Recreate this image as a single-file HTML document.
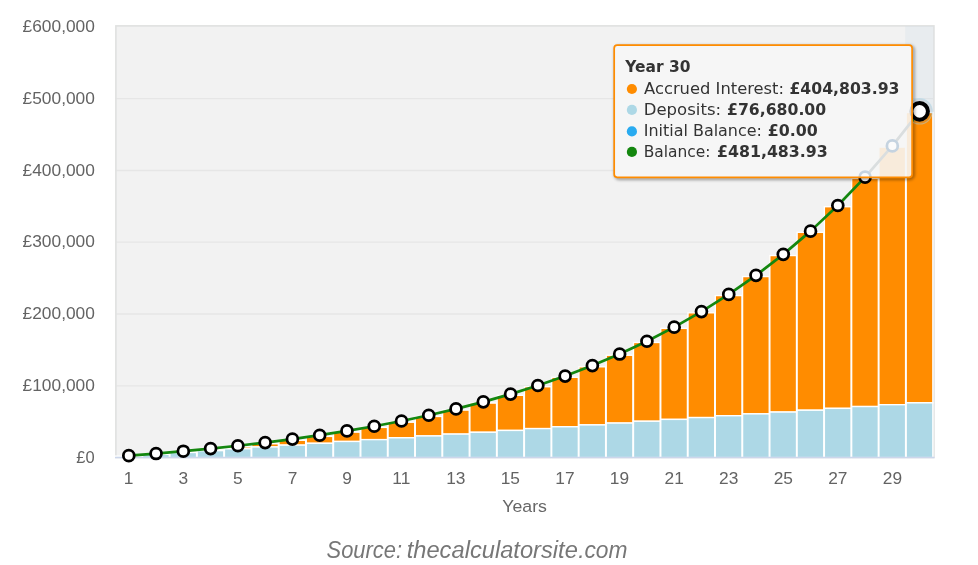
<!DOCTYPE html>
<html lang="en"><head><meta charset="utf-8"><title>Compound interest chart</title>
<style>html,body{margin:0;padding:0;background:#fff}body{width:978px;height:565px;overflow:hidden}svg{display:block}.ax{font-family:"Liberation Sans","DejaVu Sans",sans-serif;font-size:16px;fill:#636363}.tt{font-family:"DejaVu Sans", "Liberation Sans", sans-serif;font-size:15.9px;fill:#333}.b{font-weight:bold}.src{font-family:"Liberation Sans","DejaVu Sans",sans-serif;font-style:italic;font-size:23px;fill:#777}</style></head><body>
<svg width="978" height="565" viewBox="0 0 978 565">
<defs><filter id="sh" x="-5%" y="-10%" width="110%" height="125%"><feGaussianBlur stdDeviation="1.5"/></filter></defs>
<rect x="0" y="0" width="978" height="565" fill="#fff"/>
<rect x="115.2" y="25.2" width="819.3" height="432.4" fill="#f2f2f2"/>
<line x1="115.2" x2="933.3" y1="98.7" y2="98.7" stroke="#e6e6e6" stroke-width="1.3"/>
<line x1="115.2" x2="933.3" y1="170.5" y2="170.5" stroke="#e6e6e6" stroke-width="1.3"/>
<line x1="115.2" x2="933.3" y1="242.2" y2="242.2" stroke="#e6e6e6" stroke-width="1.3"/>
<line x1="115.2" x2="933.3" y1="314.0" y2="314.0" stroke="#e6e6e6" stroke-width="1.3"/>
<line x1="115.2" x2="933.3" y1="385.8" y2="385.8" stroke="#e6e6e6" stroke-width="1.3"/>
<line x1="115.2" x2="933.3" y1="457.6" y2="457.6" stroke="#e6e6e6" stroke-width="1.3"/>
<rect x="115.9" y="25.9" width="818.0" height="431.6" fill="none" stroke="#e0e2e1" stroke-width="1.6"/>
<rect x="905.3" y="26.0" width="28.0" height="431.5" fill="#d1dee8" fill-opacity="0.3"/>
<rect x="115.36" y="456.88" width="26.67" height="-0.71" fill="#ff8c00" stroke="#fff" stroke-width="1.36"/>
<rect x="115.36" y="456.16" width="26.67" height="1.44" fill="#add8e6" stroke="#fff" stroke-width="1.36"/>
<rect x="142.63" y="454.75" width="26.67" height="-0.43" fill="#ff8c00" stroke="#fff" stroke-width="1.36"/>
<rect x="142.63" y="454.32" width="26.67" height="3.28" fill="#add8e6" stroke="#fff" stroke-width="1.36"/>
<rect x="169.90" y="452.40" width="26.67" height="0.09" fill="#ff8c00" stroke="#fff" stroke-width="1.36"/>
<rect x="169.90" y="452.49" width="26.67" height="5.11" fill="#add8e6" stroke="#fff" stroke-width="1.36"/>
<rect x="197.17" y="449.80" width="26.67" height="0.84" fill="#ff8c00" stroke="#fff" stroke-width="1.36"/>
<rect x="197.17" y="450.65" width="26.67" height="6.95" fill="#add8e6" stroke="#fff" stroke-width="1.36"/>
<rect x="224.44" y="446.94" width="26.67" height="1.87" fill="#ff8c00" stroke="#fff" stroke-width="1.36"/>
<rect x="224.44" y="448.81" width="26.67" height="8.79" fill="#add8e6" stroke="#fff" stroke-width="1.36"/>
<rect x="251.71" y="443.77" width="26.67" height="3.20" fill="#ff8c00" stroke="#fff" stroke-width="1.36"/>
<rect x="251.71" y="446.97" width="26.67" height="10.63" fill="#add8e6" stroke="#fff" stroke-width="1.36"/>
<rect x="278.98" y="440.27" width="26.67" height="4.86" fill="#ff8c00" stroke="#fff" stroke-width="1.36"/>
<rect x="278.98" y="445.13" width="26.67" height="12.47" fill="#add8e6" stroke="#fff" stroke-width="1.36"/>
<rect x="306.25" y="436.41" width="26.67" height="6.89" fill="#ff8c00" stroke="#fff" stroke-width="1.36"/>
<rect x="306.25" y="443.29" width="26.67" height="14.31" fill="#add8e6" stroke="#fff" stroke-width="1.36"/>
<rect x="333.52" y="432.14" width="26.67" height="9.32" fill="#ff8c00" stroke="#fff" stroke-width="1.36"/>
<rect x="333.52" y="441.46" width="26.67" height="16.14" fill="#add8e6" stroke="#fff" stroke-width="1.36"/>
<rect x="360.79" y="427.42" width="26.67" height="12.20" fill="#ff8c00" stroke="#fff" stroke-width="1.36"/>
<rect x="360.79" y="439.62" width="26.67" height="17.98" fill="#add8e6" stroke="#fff" stroke-width="1.36"/>
<rect x="388.06" y="422.21" width="26.67" height="15.57" fill="#ff8c00" stroke="#fff" stroke-width="1.36"/>
<rect x="388.06" y="437.78" width="26.67" height="19.82" fill="#add8e6" stroke="#fff" stroke-width="1.36"/>
<rect x="415.33" y="416.45" width="26.67" height="19.49" fill="#ff8c00" stroke="#fff" stroke-width="1.36"/>
<rect x="415.33" y="435.94" width="26.67" height="21.66" fill="#add8e6" stroke="#fff" stroke-width="1.36"/>
<rect x="442.60" y="410.10" width="26.67" height="24.01" fill="#ff8c00" stroke="#fff" stroke-width="1.36"/>
<rect x="442.60" y="434.10" width="26.67" height="23.50" fill="#add8e6" stroke="#fff" stroke-width="1.36"/>
<rect x="469.87" y="403.07" width="26.67" height="29.19" fill="#ff8c00" stroke="#fff" stroke-width="1.36"/>
<rect x="469.87" y="432.27" width="26.67" height="25.33" fill="#add8e6" stroke="#fff" stroke-width="1.36"/>
<rect x="497.14" y="395.31" width="26.67" height="35.12" fill="#ff8c00" stroke="#fff" stroke-width="1.36"/>
<rect x="497.14" y="430.43" width="26.67" height="27.17" fill="#add8e6" stroke="#fff" stroke-width="1.36"/>
<rect x="524.41" y="386.74" width="26.67" height="41.85" fill="#ff8c00" stroke="#fff" stroke-width="1.36"/>
<rect x="524.41" y="428.59" width="26.67" height="29.01" fill="#add8e6" stroke="#fff" stroke-width="1.36"/>
<rect x="551.68" y="377.27" width="26.67" height="49.48" fill="#ff8c00" stroke="#fff" stroke-width="1.36"/>
<rect x="551.68" y="426.75" width="26.67" height="30.85" fill="#add8e6" stroke="#fff" stroke-width="1.36"/>
<rect x="578.95" y="366.80" width="26.67" height="58.11" fill="#ff8c00" stroke="#fff" stroke-width="1.36"/>
<rect x="578.95" y="424.91" width="26.67" height="32.69" fill="#add8e6" stroke="#fff" stroke-width="1.36"/>
<rect x="606.22" y="355.25" width="26.67" height="67.83" fill="#ff8c00" stroke="#fff" stroke-width="1.36"/>
<rect x="606.22" y="423.07" width="26.67" height="34.53" fill="#add8e6" stroke="#fff" stroke-width="1.36"/>
<rect x="633.49" y="342.48" width="26.67" height="78.76" fill="#ff8c00" stroke="#fff" stroke-width="1.36"/>
<rect x="633.49" y="421.24" width="26.67" height="36.36" fill="#add8e6" stroke="#fff" stroke-width="1.36"/>
<rect x="660.76" y="328.37" width="26.67" height="91.03" fill="#ff8c00" stroke="#fff" stroke-width="1.36"/>
<rect x="660.76" y="419.40" width="26.67" height="38.20" fill="#add8e6" stroke="#fff" stroke-width="1.36"/>
<rect x="688.03" y="312.79" width="26.67" height="104.77" fill="#ff8c00" stroke="#fff" stroke-width="1.36"/>
<rect x="688.03" y="417.56" width="26.67" height="40.04" fill="#add8e6" stroke="#fff" stroke-width="1.36"/>
<rect x="715.30" y="295.58" width="26.67" height="120.15" fill="#ff8c00" stroke="#fff" stroke-width="1.36"/>
<rect x="715.30" y="415.72" width="26.67" height="41.88" fill="#add8e6" stroke="#fff" stroke-width="1.36"/>
<rect x="742.57" y="276.56" width="26.67" height="137.32" fill="#ff8c00" stroke="#fff" stroke-width="1.36"/>
<rect x="742.57" y="413.88" width="26.67" height="43.72" fill="#add8e6" stroke="#fff" stroke-width="1.36"/>
<rect x="769.84" y="255.55" width="26.67" height="156.49" fill="#ff8c00" stroke="#fff" stroke-width="1.36"/>
<rect x="769.84" y="412.05" width="26.67" height="45.55" fill="#add8e6" stroke="#fff" stroke-width="1.36"/>
<rect x="797.11" y="232.34" width="26.67" height="177.86" fill="#ff8c00" stroke="#fff" stroke-width="1.36"/>
<rect x="797.11" y="410.21" width="26.67" height="47.39" fill="#add8e6" stroke="#fff" stroke-width="1.36"/>
<rect x="824.38" y="206.71" width="26.67" height="201.66" fill="#ff8c00" stroke="#fff" stroke-width="1.36"/>
<rect x="824.38" y="408.37" width="26.67" height="49.23" fill="#add8e6" stroke="#fff" stroke-width="1.36"/>
<rect x="851.65" y="178.38" width="26.67" height="228.15" fill="#ff8c00" stroke="#fff" stroke-width="1.36"/>
<rect x="851.65" y="406.53" width="26.67" height="51.07" fill="#add8e6" stroke="#fff" stroke-width="1.36"/>
<rect x="878.92" y="147.10" width="26.67" height="257.60" fill="#ff8c00" stroke="#fff" stroke-width="1.36"/>
<rect x="878.92" y="404.69" width="26.67" height="52.91" fill="#add8e6" stroke="#fff" stroke-width="1.36"/>
<rect x="906.19" y="112.53" width="26.67" height="290.32" fill="#ff8c00" stroke="#fff" stroke-width="1.36"/>
<rect x="906.19" y="402.85" width="26.67" height="54.75" fill="#add8e6" stroke="#fff" stroke-width="1.36"/>
<line x1="115.0" x2="934.5" y1="457.5" y2="457.5" stroke="#ccd6eb" stroke-width="1.4"/>
<polyline points="128.79,455.68 156.06,453.55 183.33,451.20 210.60,448.60 237.88,445.74 265.14,442.57 292.41,439.07 319.69,435.21 346.95,430.94 374.23,426.22 401.50,421.01 428.76,415.25 456.03,408.90 483.30,401.87 510.58,394.11 537.85,385.54 565.12,376.07 592.38,365.60 619.65,354.05 646.92,341.28 674.19,327.17 701.46,311.59 728.74,294.38 756.00,275.36 783.27,254.35 810.54,231.14 837.81,205.51 865.08,177.18 892.35,145.90 919.62,111.33" fill="none" stroke="#14870f" stroke-width="2.7" stroke-linejoin="round" stroke-linecap="round"/>
<circle cx="128.79" cy="455.68" r="5.45" fill="#fff" stroke="#000" stroke-width="2.75"/>
<circle cx="156.06" cy="453.55" r="5.45" fill="#fff" stroke="#000" stroke-width="2.75"/>
<circle cx="183.33" cy="451.20" r="5.45" fill="#fff" stroke="#000" stroke-width="2.75"/>
<circle cx="210.60" cy="448.60" r="5.45" fill="#fff" stroke="#000" stroke-width="2.75"/>
<circle cx="237.88" cy="445.74" r="5.45" fill="#fff" stroke="#000" stroke-width="2.75"/>
<circle cx="265.14" cy="442.57" r="5.45" fill="#fff" stroke="#000" stroke-width="2.75"/>
<circle cx="292.41" cy="439.07" r="5.45" fill="#fff" stroke="#000" stroke-width="2.75"/>
<circle cx="319.69" cy="435.21" r="5.45" fill="#fff" stroke="#000" stroke-width="2.75"/>
<circle cx="346.95" cy="430.94" r="5.45" fill="#fff" stroke="#000" stroke-width="2.75"/>
<circle cx="374.23" cy="426.22" r="5.45" fill="#fff" stroke="#000" stroke-width="2.75"/>
<circle cx="401.50" cy="421.01" r="5.45" fill="#fff" stroke="#000" stroke-width="2.75"/>
<circle cx="428.76" cy="415.25" r="5.45" fill="#fff" stroke="#000" stroke-width="2.75"/>
<circle cx="456.03" cy="408.90" r="5.45" fill="#fff" stroke="#000" stroke-width="2.75"/>
<circle cx="483.30" cy="401.87" r="5.45" fill="#fff" stroke="#000" stroke-width="2.75"/>
<circle cx="510.58" cy="394.11" r="5.45" fill="#fff" stroke="#000" stroke-width="2.75"/>
<circle cx="537.85" cy="385.54" r="5.45" fill="#fff" stroke="#000" stroke-width="2.75"/>
<circle cx="565.12" cy="376.07" r="5.45" fill="#fff" stroke="#000" stroke-width="2.75"/>
<circle cx="592.38" cy="365.60" r="5.45" fill="#fff" stroke="#000" stroke-width="2.75"/>
<circle cx="619.65" cy="354.05" r="5.45" fill="#fff" stroke="#000" stroke-width="2.75"/>
<circle cx="646.92" cy="341.28" r="5.45" fill="#fff" stroke="#000" stroke-width="2.75"/>
<circle cx="674.19" cy="327.17" r="5.45" fill="#fff" stroke="#000" stroke-width="2.75"/>
<circle cx="701.46" cy="311.59" r="5.45" fill="#fff" stroke="#000" stroke-width="2.75"/>
<circle cx="728.74" cy="294.38" r="5.45" fill="#fff" stroke="#000" stroke-width="2.75"/>
<circle cx="756.00" cy="275.36" r="5.45" fill="#fff" stroke="#000" stroke-width="2.75"/>
<circle cx="783.27" cy="254.35" r="5.45" fill="#fff" stroke="#000" stroke-width="2.75"/>
<circle cx="810.54" cy="231.14" r="5.45" fill="#fff" stroke="#000" stroke-width="2.75"/>
<circle cx="837.81" cy="205.51" r="5.45" fill="#fff" stroke="#000" stroke-width="2.75"/>
<circle cx="865.08" cy="177.18" r="5.45" fill="#fff" stroke="#000" stroke-width="2.75"/>
<circle cx="892.35" cy="145.90" r="5.45" fill="#fff" stroke="#000" stroke-width="2.75"/>
<circle cx="919.62" cy="111.33" r="12.7" fill="#7f95a3" fill-opacity="0.2" stroke="#a9d8ea" stroke-opacity="0.45" stroke-width="1.1"/>
<circle cx="919.62" cy="111.33" r="8.3" fill="#fff" stroke="#000" stroke-width="4"/>
<text class="ax" transform="translate(76.32,462.80) scale(1.0317,1)">£0</text>
<text class="ax" transform="translate(22.60,391.02) scale(1.0837,1)">£100,000</text>
<text class="ax" transform="translate(22.60,319.24) scale(1.0837,1)">£200,000</text>
<text class="ax" transform="translate(22.60,247.46) scale(1.0837,1)">£300,000</text>
<text class="ax" transform="translate(22.60,175.68) scale(1.0837,1)">£400,000</text>
<text class="ax" transform="translate(22.60,103.90) scale(1.0837,1)">£500,000</text>
<text class="ax" transform="translate(22.60,32.12) scale(1.0837,1)">£600,000</text>
<text class="ax" style="font-size:16.3px;fill:#666" transform="translate(502.27,511.90) scale(1.0873,1)">Years</text>
<text class="src" transform="translate(326.53,557.60) scale(0.9532,1)">Source:</text>
<text class="src" transform="translate(406.68,557.60) scale(1.0303,1)">thecalculatorsite</text>
<text class="src" transform="translate(578.15,557.60) scale(0.9910,1)">.com</text>
<text class="ax" transform="translate(123.82,483.8) scale(1.0837,1)">1</text>
<text class="ax" transform="translate(178.58,483.8) scale(1.0837,1)">3</text>
<text class="ax" transform="translate(233.07,483.8) scale(1.0837,1)">5</text>
<text class="ax" transform="translate(287.68,483.8) scale(1.0837,1)">7</text>
<text class="ax" transform="translate(342.22,483.8) scale(1.0837,1)">9</text>
<text class="ax" transform="translate(392.33,483.8) scale(1.0837,1)">11</text>
<text class="ax" transform="translate(446.17,483.8) scale(1.0837,1)">13</text>
<text class="ax" transform="translate(500.70,483.8) scale(1.0837,1)">15</text>
<text class="ax" transform="translate(555.28,483.8) scale(1.0837,1)">17</text>
<text class="ax" transform="translate(609.82,483.8) scale(1.0837,1)">19</text>
<text class="ax" transform="translate(664.58,483.8) scale(1.0837,1)">21</text>
<text class="ax" transform="translate(719.10,483.8) scale(1.0837,1)">23</text>
<text class="ax" transform="translate(773.63,483.8) scale(1.0837,1)">25</text>
<text class="ax" transform="translate(828.21,483.8) scale(1.0837,1)">27</text>
<text class="ax" transform="translate(882.75,483.8) scale(1.0837,1)">29</text>
<clipPath id="ttc"><rect x="614.2" y="45.2" width="297.9" height="132.1" rx="3"/></clipPath>
<rect x="615.5" y="46.5" width="297.9" height="132.1" rx="3.5" fill="none" stroke="#000" stroke-opacity="0.4" stroke-width="2.6" filter="url(#sh)"/>
<rect x="614.2" y="45.2" width="297.9" height="132.1" rx="3" fill="#f6f6f6"/>
<g clip-path="url(#ttc)">
<rect x="878.92" y="147.10" width="26.67" height="200.00" fill="#f8ebdb" stroke="#f6f6f6" stroke-width="1.36"/>
<rect x="906.19" y="112.53" width="26.67" height="200.00" fill="#f8ebdb" stroke="#f6f6f6" stroke-width="1.36"/>
<polyline points="837.81,205.51 865.08,177.18 892.35,145.90 919.62,111.33" fill="none" stroke="#dadedf" stroke-width="2.7" stroke-linejoin="round"/>
<circle cx="865.08" cy="177.18" r="5.45" fill="#fbfbfb" stroke="#c5d3e0" stroke-width="2.75"/>
<circle cx="892.35" cy="145.90" r="5.45" fill="#fbfbfb" stroke="#c5d3e0" stroke-width="2.75"/>
<circle cx="919.62" cy="111.33" r="8.3" fill="#fbfbfb" stroke="#c9ced3" stroke-width="4"/>
</g>
<rect x="614.2" y="45.2" width="297.9" height="132.1" rx="3" fill="none" stroke="#ff8c00" stroke-width="1.7"/>
<text class="tt b" transform="translate(625.31,72.40) scale(0.9736,1)">Year 30</text>
<text class="tt" transform="translate(644.06,93.60) scale(1.0282,1)">Accrued Interest:</text>
<text class="tt b" transform="translate(789.41,93.60) scale(0.9868,1)">£404,803.93</text>
<text class="tt" transform="translate(643.67,114.50) scale(1.0406,1)">Deposits:</text>
<text class="tt b" transform="translate(727.01,114.50) scale(0.9867,1)">£76,680.00</text>
<text class="tt" transform="translate(643.72,136.00) scale(1.0041,1)">Initial Balance:</text>
<text class="tt b" transform="translate(767.80,136.00) scale(0.9964,1)">£0.00</text>
<text class="tt" transform="translate(643.78,156.50) scale(0.9720,1)">Balance:</text>
<text class="tt b" transform="translate(716.91,156.50) scale(0.9941,1)">£481,483.93</text>
<circle cx="631.9" cy="89.0" r="5.1" fill="#ff8c00"/>
<circle cx="631.9" cy="109.9" r="5.1" fill="#add8e6"/>
<circle cx="631.9" cy="131.4" r="5.1" fill="#29abf0"/>
<circle cx="631.9" cy="151.9" r="5.1" fill="#14870f"/>
</svg></body></html>
